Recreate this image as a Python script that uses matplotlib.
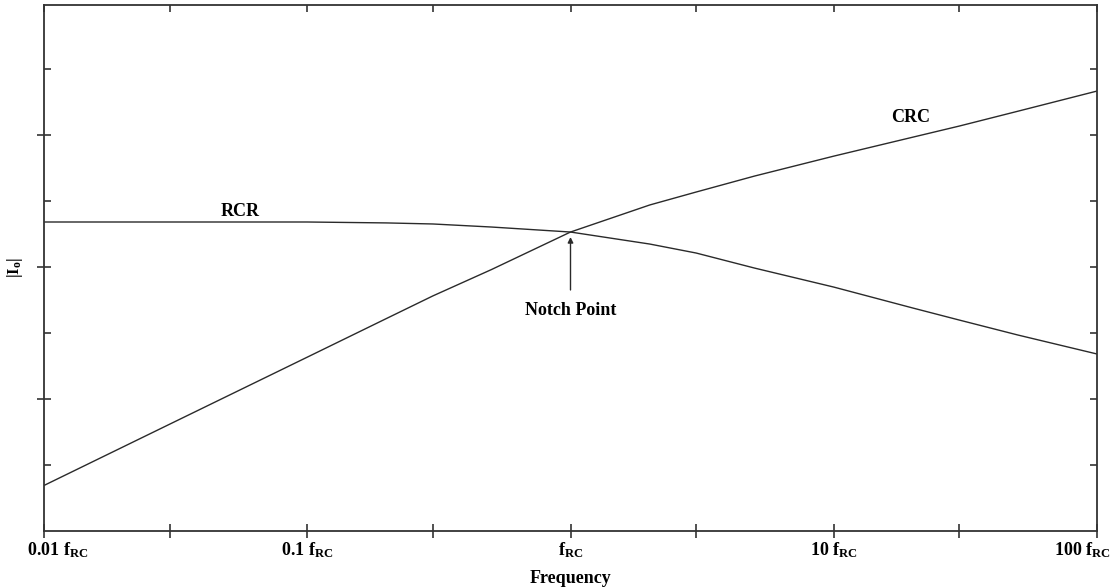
import matplotlib
matplotlib.use("Agg")
import matplotlib.pyplot as plt
import matplotlib.transforms as mtransforms
from matplotlib.ticker import FixedLocator, NullFormatter

plt.rcParams['font.family'] = ['Liberation Serif', 'DejaVu Serif']
plt.rcParams['font.weight'] = 'bold'
plt.rcParams['mathtext.fontset'] = 'custom'
plt.rcParams['mathtext.rm'] = 'Liberation Serif:bold'
plt.rcParams['mathtext.bf'] = 'Liberation Serif:bold'
plt.rcParams['mathtext.it'] = 'Liberation Serif:bold'

# Data; frequency in units of f_RC
freq = [0.01, 0.03, 0.1, 0.2, 0.3, 0.5, 1, 2, 3, 5, 10, 20, 30, 50, 100]
rcr = [2.341, 2.341, 2.341, 2.334, 2.326, 2.303, 2.265, 2.174, 2.106, 1.992,
       1.848, 1.689, 1.598, 1.485, 1.341]
crc = [0.345, 0.809, 1.317, 1.610, 1.781, 1.980, 2.265, 2.47, 2.568, 2.689,
       2.84, 2.984, 3.068, 3.18, 3.333]

major_ticks = [0.01, 0.1, 1, 10, 100]
major_labels = [r'0.01 $\mathbf{f}_{\mathbf{RC}}$', r'0.1 $\mathbf{f}_{\mathbf{RC}}$',
                r'$\mathbf{f}_{\mathbf{RC}}$', r'10 $\mathbf{f}_{\mathbf{RC}}$',
                r'100 $\mathbf{f}_{\mathbf{RC}}$']
minor_ticks = [0.03, 0.3, 3, 30]
y_major = [1, 2, 3]
y_minor = [0.5, 1.5, 2.5, 3.5]

W, H = 1110, 588
fig = plt.figure(figsize=(W / 100, H / 100), dpi=100)
left, right, top, bottom = 44, 1097, 5, 531
ax = fig.add_axes([left / W, 1 - bottom / H, (right - left) / W, (bottom - top) / H])

lc = '#2a2a2a'
sc = '#333333'
ax.plot(freq, rcr, color=lc, lw=1.0)
ax.plot(freq, crc, color=lc, lw=1.0)

ax.set_xscale('log')
ax.set_xlim(0.01, 100)
ax.set_ylim(0, 3.985)

ax.xaxis.set_major_locator(FixedLocator(major_ticks))
ax.xaxis.set_minor_locator(FixedLocator(minor_ticks))
ax.set_xticklabels(major_labels)
ax.xaxis.set_minor_formatter(NullFormatter())
ax.yaxis.set_major_locator(FixedLocator(y_major))
ax.yaxis.set_minor_locator(FixedLocator(y_minor))
ax.set_yticklabels([])

for s in ax.spines.values():
    s.set_linewidth(1.3)
    s.set_color(sc)

ax.tick_params(axis='x', which='both', direction='inout', length=10, width=1.2,
               colors=sc, labelsize=13, pad=2)
ax.tick_params(axis='y', which='major', direction='inout', length=10, width=1.2,
               colors=sc)
ax.tick_params(axis='y', which='minor', direction='in', length=5, width=1.2,
               colors=sc)
for lab in ax.get_xticklabels():
    lab.set_color('black')

# top and right ticks: inward only
secx = ax.secondary_xaxis('top')
secx.set_xticks(major_ticks)
secx.xaxis.set_minor_locator(FixedLocator(minor_ticks))
secx.set_xticklabels([])
secx.xaxis.set_minor_formatter(NullFormatter())
secx.tick_params(which='both', direction='in', length=5, width=1.2, colors=sc)
secx.spines['top'].set_visible(False)

secy = ax.secondary_yaxis('right')
secy.set_yticks(y_major)
secy.yaxis.set_minor_locator(FixedLocator(y_minor))
secy.set_yticklabels([])
secy.yaxis.set_minor_formatter(NullFormatter())
secy.tick_params(which='both', direction='in', length=5, width=1.2, colors=sc)
secy.spines['right'].set_visible(False)

# nudge edge tick labels as in the reference
labs = ax.get_xticklabels()
labs[0].set_transform(labs[0].get_transform() +
                      mtransforms.ScaledTranslation(0.14, 0, fig.dpi_scale_trans))
labs[-1].set_transform(labs[-1].get_transform() +
                       mtransforms.ScaledTranslation(-0.15, 0, fig.dpi_scale_trans))

ax.set_xlabel('Frequency', fontsize=13, fontweight='bold', labelpad=7)
ax.set_ylabel(r'$\mathbf{|I_o|}$', fontsize=12, labelpad=5)

ax.text(0.0556, 2.417, 'RCR', fontsize=13, fontweight='bold', ha='center', va='center')
ax.text(19.6, 3.129, 'CRC', fontsize=13, fontweight='bold', ha='center', va='center')
ax.annotate('Notch Point', xy=(1, 2.227), xytext=(1, 1.667), fontsize=13,
            fontweight='bold', ha='center', va='center',
            arrowprops=dict(arrowstyle='-|>', color=lc, lw=1.0,
                            mutation_scale=8, shrinkA=7, shrinkB=0))

fig.savefig('out.png', dpi=100)
